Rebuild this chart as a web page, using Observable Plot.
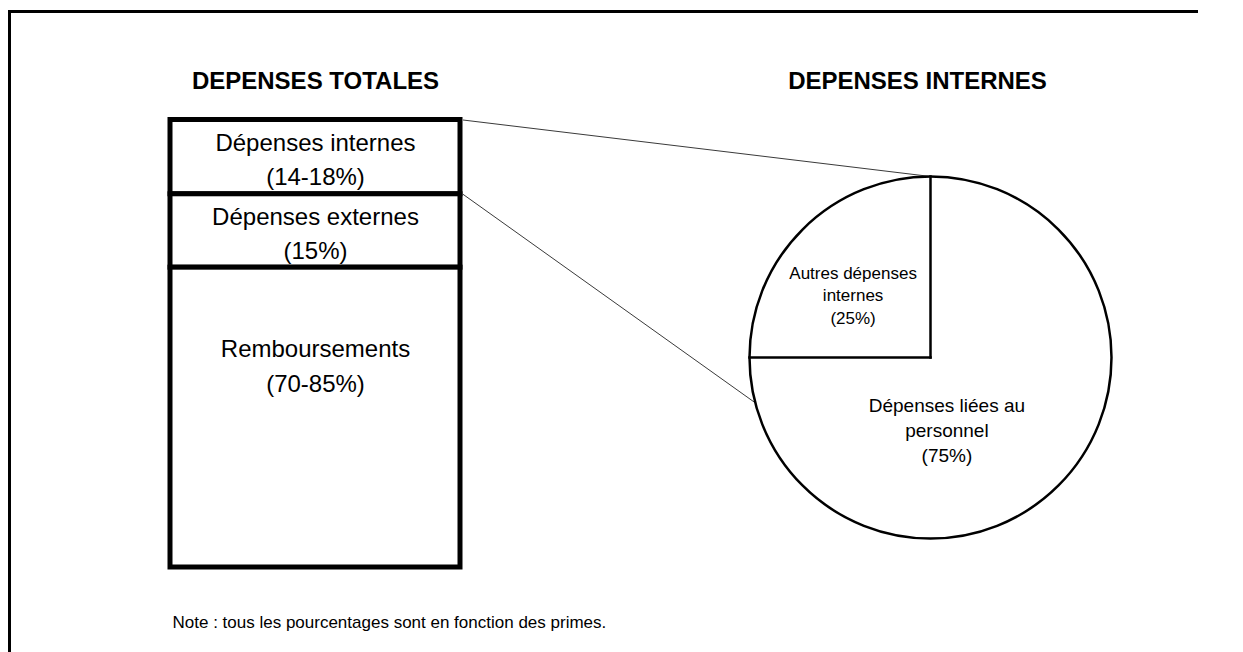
<!DOCTYPE html>
<html>
<head>
<meta charset="utf-8">
<script src="https://cdn.jsdelivr.net/npm/d3@7"></script>
<script src="https://cdn.jsdelivr.net/npm/@observablehq/plot@0.6"></script>
<style>
  html, body { margin: 0; padding: 0; background: #fff; overflow: hidden; }
  #wrap { position: relative; width: 1243px; height: 652px; overflow: hidden; background: #fff; }
  #wrap svg { position: absolute; left: 0; top: 0; }
  #frameL { position: absolute; left: 8px; top: 10px; width: 3px; height: 642px; background: #000; }
  #frameT { position: absolute; left: 8px; top: 10px; width: 1190px; height: 3px; background: #000; }
</style>
</head>
<body>
<div id="wrap"><div id="frameL"></div><div id="frameT"></div></div>
<script>
// ---------------- data ----------------
const titles = ["DEPENSES TOTALES", "DEPENSES INTERNES"];
const totalCategories = ["Dépenses internes", "Dépenses externes", "Remboursements"];
const totalRanges = ["(14-18%)", "(15%)", "(70-85%)"];
const totalShares = [16.6, 16.4, 67.0];          // share of the column height
const internalLabels = ["Autres dépenses\ninternes", "Dépenses liées au\npersonnel"];
const internalPercents = ["(25%)", "(75%)"];
const internalShares = [25, 75];
const note = "Note : tous les pourcentages sont en fonction des primes.";

// ---------------- layout ----------------
const W = 1243, H = 652;
const FONT = "'Liberation Sans', Arial, Helvetica, sans-serif";
const column = { left: 169.5, right: 459.5, top: 119.5, bottom: 567, stroke: 5 };
const pie = { cx: 930, cy: 357, R: 181, stroke: 2.5 };
const lowerConnectorAngle = -104.5 * Math.PI / 180;   // where the 2nd connector meets the circle
const pieLabelRadius = 0.55;
const pieLabelNudge = [[-7, 7], [-54, 1]];
const pieLabelSize = [17, 19];
const svgStyle = { background: "transparent", fontFamily: FONT };

// ---------------- column (dépenses totales) ----------------
const cum = d3.cumsum(totalShares);
const totals = totalCategories.map((c, i) => ({
  cat: c, range: totalRanges[i], share: totalShares[i],
  y1: cum[i] - totalShares[i], y2: cum[i], mid: cum[i] - totalShares[i] / 2
}));
const xCol = { type: "band", domain: ["total"], range: [column.left, column.right], padding: 0 };
const yCol = { domain: [0, 100], range: [column.top, column.bottom] };

const colPlot = Plot.plot({
  width: W, height: H, marginTop: 0, marginRight: 0, marginBottom: 0, marginLeft: 0,
  style: svgStyle, x: { ...xCol, axis: null }, y: { ...yCol, axis: null },
  marks: [
    Plot.barY(totals, { x: () => "total", y1: "y1", y2: "y2", fill: "white", stroke: "black", strokeWidth: column.stroke }),
    Plot.text(totals.filter(d => d.share < 50), { x: () => "total", y: "mid", text: d => d.cat + "\n" + d.range, fontSize: 24, lineHeight: 1.42, fill: "black" }),
    Plot.text(totals.filter(d => d.share >= 50), { x: () => "total", y: "mid", text: d => d.cat + "\n" + d.range, fontSize: 24, lineHeight: 1.42, fill: "black", dy: -54 }),
    Plot.text([titles[0]], { x: () => "total", frameAnchor: "top", dy: 71.5, text: d => d, fontSize: 24, fontWeight: "bold", fill: "black" }),
    Plot.text([note], { frameAnchor: "top-left", dx: 172, dy: 615, text: d => d, textAnchor: "start", fontSize: 17, fill: "black" })
  ]
});

// ---------------- pie (dépenses internes) ----------------
const xPie = { domain: [-1, 1], range: [pie.cx - pie.R, pie.cx + pie.R] };
const yPie = { domain: [-1, 1], range: [pie.cy + pie.R, pie.cy - pie.R] };
const sxPie = Plot.scale({ x: xPie });
const syPie = Plot.scale({ y: yPie });
const arcs = d3.pie().sort(null).startAngle(-Math.PI / 2).endAngle(3 * Math.PI / 2)(internalShares)
  .map((a, i) => ({ label: internalLabels[i] + "\n" + internalPercents[i], start: a.startAngle, end: a.endAngle, mid: (a.startAngle + a.endAngle) / 2 }));

// connectors from the column's right edge to the circle
const sxCol = colPlot.scale("x");
const syCol = colPlot.scale("y");
const colRight = sxCol.apply("total") + sxCol.bandwidth + column.stroke / 2;
const connectors = [
  { x1: sxPie.invert(colRight), y1: syPie.invert(syCol.apply(0)), x2: Math.sin(arcs[1].start), y2: Math.cos(arcs[1].start) },
  { x1: sxPie.invert(colRight), y1: syPie.invert(syCol.apply(cum[0])), x2: Math.sin(lowerConnectorAngle), y2: Math.cos(lowerConnectorAngle) }
];

const piePlot = Plot.plot({
  width: W, height: H, marginTop: 0, marginRight: 0, marginBottom: 0, marginLeft: 0,
  style: svgStyle, x: { ...xPie, axis: null }, y: { ...yPie, axis: null },
  marks: [
    Plot.link(connectors, { x1: "x1", y1: "y1", x2: "x2", y2: "y2", stroke: "#3a3a3a", strokeWidth: 1 }),
    Plot.dot([0], { x: () => 0, y: () => 0, r: pie.R, fill: "white", stroke: "black", strokeWidth: pie.stroke }),
    Plot.link(arcs, { x1: () => 0, y1: () => 0, x2: d => Math.sin(d.start), y2: d => Math.cos(d.start), stroke: "black", strokeWidth: pie.stroke, strokeLinecap: "square" }),
    ...arcs.map((a, i) => Plot.text([a], { x: d => pieLabelRadius * Math.sin(d.mid), y: d => pieLabelRadius * Math.cos(d.mid), text: "label", dx: pieLabelNudge[i][0], dy: pieLabelNudge[i][1], fontSize: pieLabelSize[i], lineHeight: 1.33, fill: "black" })),
    Plot.text([titles[1]], { x: () => 0, frameAnchor: "top", dy: 71.5, dx: -13, text: d => d, fontSize: 24, fontWeight: "bold", fill: "black" })
  ]
});

const wrap = document.getElementById("wrap");
wrap.appendChild(colPlot);
wrap.appendChild(piePlot);
</script>
</body>
</html>
